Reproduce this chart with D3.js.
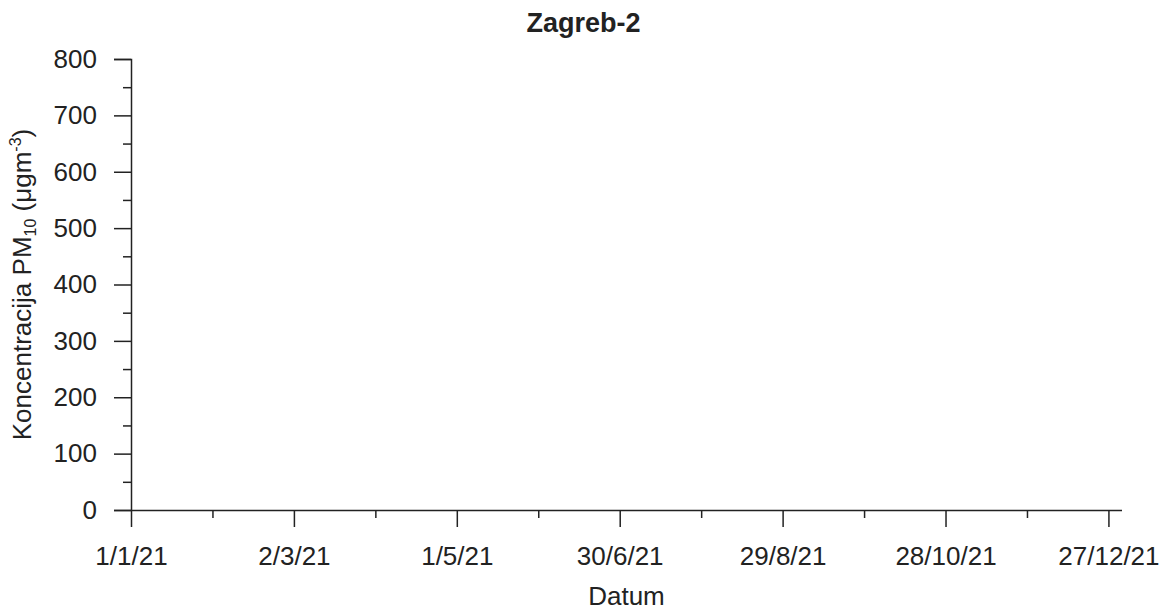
<!DOCTYPE html>
<html>
<head>
<meta charset="utf-8">
<script src="https://cdn.jsdelivr.net/npm/d3@7"></script>
<style>
  body { margin: 0; background: #fff; }
  svg text { font-family: "Liberation Sans", Arial, sans-serif; fill: #222; }
</style>
</head>
<body>
<svg id="chart"></svg>
<script>
// chart data: no measurements are plotted in the reference
const title = "Zagreb-2";
const dateTicks = ["2021-01-01", "2021-03-02", "2021-05-01", "2021-06-30", "2021-08-29", "2021-10-28", "2021-12-27"];
const dateMinorTicks = ["2021-01-31", "2021-04-01", "2021-05-31", "2021-07-30", "2021-09-28", "2021-11-27"];
const dateDomain = ["2021-01-01", "2022-01-01"];
const valueTicks = [0, 100, 200, 300, 400, 500, 600, 700, 800];
const valueMinorTicks = [50, 150, 250, 350, 450, 550, 650, 750];
const pm10Values = []; // empty series

const width = 1167, height = 611;
const margin = { left: 131, right: 45, top: 59, bottom: 101 };
const fontSize = "26px";

const svg = d3.select("#chart").attr("width", width).attr("height", height);

const parse = d3.utcParse("%Y-%m-%d");
const x = d3.scaleUtc()
    .domain(dateDomain.map(parse))
    .range([margin.left, width - margin.right]);
const y = d3.scaleLinear()
    .domain([0, 800])
    .range([height - margin.bottom, margin.top]);

const fmt = d3.utcFormat("%-d/%-m/%y");

// x axis (major + minor)
const xAxis = svg.append("g")
    .attr("transform", `translate(0, ${y(0)})`)
    .call(d3.axisBottom(x).tickValues(dateTicks.map(parse)).tickFormat(fmt).tickSize(17).tickPadding(20));
svg.append("g")
    .attr("transform", `translate(0, ${y(0)})`)
    .call(d3.axisBottom(x).tickValues(dateMinorTicks.map(parse)).tickFormat("").tickSize(8))
    .call(g => g.select(".domain").remove());

// baseline runs a bit left of the y axis, like the original
xAxis.select(".domain").attr("d", `M${margin.left - 17},0.5H${width - margin.right}`);

// y axis (major + minor)
const yAxis = svg.append("g")
    .attr("transform", `translate(${margin.left}, 0)`)
    .call(d3.axisLeft(y).tickValues(valueTicks).tickSize(17).tickPadding(17));
svg.append("g")
    .attr("transform", `translate(${margin.left}, 0)`)
    .call(d3.axisLeft(y).tickValues(valueMinorTicks).tickFormat("").tickSize(8))
    .call(g => g.select(".domain").remove());
yAxis.select(".domain").attr("d", `M-17,${y(800) + 0.5}H0.5V${y(0)}`);

svg.selectAll(".tick line, .domain").attr("stroke", "#222").attr("stroke-width", 1.5);
svg.selectAll(".tick text").style("font-size", fontSize).attr("fill", "#222");

// series line (nothing to draw)
svg.append("path")
    .datum(pm10Values)
    .attr("fill", "none")
    .attr("stroke", "#1f77b4")
    .attr("d", d3.line().x(d => x(parse(d.date))).y(d => y(d.value)));

// title
svg.append("text")
    .attr("x", width / 2)
    .attr("y", 32)
    .attr("text-anchor", "middle")
    .style("font-size", "27px")
    .style("font-weight", "bold")
    .text(title);

// x label
svg.append("text")
    .attr("x", (margin.left + width - margin.right) / 2)
    .attr("y", 605)
    .attr("text-anchor", "middle")
    .style("font-size", fontSize)
    .text("Datum");

// y label with subscript / superscript
const yl = svg.append("text")
    .attr("transform", `translate(31, ${(y(0) + y(800)) / 2}) rotate(-90)`)
    .attr("text-anchor", "middle")
    .style("font-size", fontSize);
yl.append("tspan").text("Koncentracija PM");
yl.append("tspan").attr("dy", 5).style("font-size", "16px").text("10");
yl.append("tspan").attr("dy", -5).text(" (μgm");
yl.append("tspan").attr("dy", -10).style("font-size", "16px").text("-3");
yl.append("tspan").attr("dy", 10).text(")");
</script>
</body>
</html>
